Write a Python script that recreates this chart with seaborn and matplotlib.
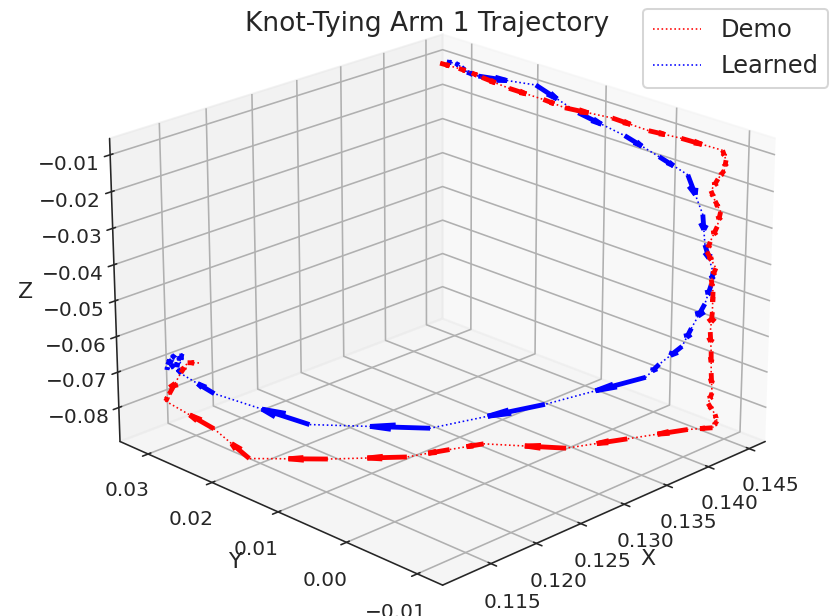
import numpy as np
import matplotlib
matplotlib.use("Agg")
import matplotlib.pyplot as plt
import seaborn as sns

# Arm 1 tool-tip positions (metres) for the demonstrated knot-tying motion
demo_x = [0.1426, 0.1428, 0.1430, 0.1431, 0.1434, 0.1437, 0.1439, 0.1444, 0.1448, 0.1451,
          0.1455, 0.1456, 0.1455, 0.1455, 0.1454, 0.1454, 0.1453, 0.1453, 0.1453, 0.1452,
          0.1451, 0.1452, 0.1451, 0.1450, 0.1449, 0.1449, 0.1448, 0.1447, 0.1447, 0.1447,
          0.1447, 0.1447, 0.1428, 0.1383, 0.1332, 0.1289, 0.1264, 0.1231, 0.1181, 0.1139,
          0.1128, 0.1113, 0.1117, 0.1124, 0.1128, 0.1135]
demo_y = [0.0292, 0.0266, 0.0249, 0.0235, 0.0198, 0.0151, 0.0122, 0.0060, 0.0013, -0.0029,
          -0.0081, -0.0085, -0.0084, -0.0076, -0.0068, -0.0074, -0.0083, -0.0079, -0.0070, -0.0067,
          -0.0081, -0.0074, -0.0078, -0.0079, -0.0078, -0.0080, -0.0082, -0.0085, -0.0080, -0.0090,
          -0.0093, -0.0087, -0.0074, -0.0041, -0.0015, 0.0051, 0.0069, 0.0089, 0.0140, 0.0201,
          0.0239, 0.0292, 0.0292, 0.0283, 0.0278, 0.0268]
demo_z = [-0.0074, -0.0075, -0.0079, -0.0084, -0.0095, -0.0100, -0.0107, -0.0101, -0.0110, -0.0107,
          -0.0110, -0.0135, -0.0163, -0.0191, -0.0228, -0.0252, -0.0275, -0.0318, -0.0366, -0.0395,
          -0.0430, -0.0467, -0.0498, -0.0553, -0.0609, -0.0662, -0.0721, -0.0774, -0.0808, -0.0831,
          -0.0848, -0.0872, -0.0868, -0.0875, -0.0870, -0.0866, -0.0871, -0.0874, -0.0869, -0.0873,
          -0.0808, -0.0756, -0.0740, -0.0680, -0.0652, -0.0652]

# Positions reproduced by the learned policy
learned_x = [0.1427, 0.1428, 0.1428, 0.1429, 0.1430, 0.1436, 0.1441, 0.1445, 0.1450, 0.1452,
             0.1452, 0.1452, 0.1453, 0.1453, 0.1453, 0.1447, 0.1444, 0.1434, 0.1430, 0.1350,
             0.1262, 0.1178, 0.1121, 0.1109, 0.1112, 0.1106, 0.1103, 0.1110, 0.1115, 0.1123,
             0.1117, 0.1108, 0.1112]
learned_y = [0.0283, 0.0271, 0.0262, 0.0255, 0.0239, 0.0161, 0.0105, 0.0043, 0.0000, -0.0038,
             -0.0060, -0.0064, -0.0075, -0.0073, -0.0065, -0.0054, -0.0045, -0.0025, -0.0011, 0.0038,
             0.0095, 0.0163, 0.0227, 0.0260, 0.0275, 0.0278, 0.0272, 0.0276, 0.0273, 0.0279,
             0.0274, 0.0277, 0.0275]
learned_z = [-0.0066, -0.0063, -0.0069, -0.0080, -0.0082, -0.0065, -0.0112, -0.0140, -0.0175, -0.0202,
             -0.0297, -0.0378, -0.0446, -0.0484, -0.0543, -0.0614, -0.0669, -0.0725, -0.0769, -0.0805,
             -0.0829, -0.0787, -0.0693, -0.0651, -0.0640, -0.0651, -0.0629, -0.0612, -0.0629, -0.0623,
             -0.0646, -0.0634, -0.0618]

series_labels = ["Demo", "Learned"]
x_ticks = [0.115, 0.120, 0.125, 0.130, 0.135, 0.140, 0.145]
y_ticks = [-0.01, 0.00, 0.01, 0.02, 0.03]
z_ticks = [-0.08, -0.07, -0.06, -0.05, -0.04, -0.03, -0.02, -0.01]
x_limits = (0.1098, 0.1470)
y_limits = (-0.0135, 0.0345)
z_limits = (-0.0897, -0.0056)

sns.set_style("ticks", rc={
    "axes.facecolor": "white",
    "figure.facecolor": "white",
    "grid.color": "#b0b0b0",
    "grid.linewidth": 0.8,
    "axes.linewidth": 0.8,
    "xtick.major.width": 0.8,
    "ytick.major.width": 0.8,
})
plt.rcParams.update({
    "font.family": ["DejaVu Sans"],
    "font.size": 10,
    "axes.labelsize": 11,
    "xtick.labelsize": 10,
    "ytick.labelsize": 10,
    "legend.fontsize": 12,
})
palette = sns.color_palette(["#ff0000", "#0000ff"])

DPI = 145
fig = plt.figure(figsize=(835 / DPI, 616 / DPI), dpi=DPI)
side = 711
cx, cy = 433, 302
ax = fig.add_axes([(cx - side / 2) / 835, 1 - (cy + side / 2) / 616, side / 835, side / 616],
                  projection="3d")
ax.set_box_aspect((4, 4, 2.82))

series = [(demo_x, demo_y, demo_z), (learned_x, learned_y, learned_z)]
for (xs, ys, zs), color, label in zip(series, palette, series_labels):
    ax.plot(xs, ys, zs, linestyle=":", color=color, linewidth=0.8, label=label, clip_on=False)
    pts = np.column_stack([xs, ys, zs])
    step = np.diff(pts, axis=0)
    ax.quiver(pts[:-1, 0], pts[:-1, 1], pts[:-1, 2], step[:, 0], step[:, 1], step[:, 2],
              length=0.5, color=color, linewidths=2.4, arrow_length_ratio=0.4, clip_on=False)

ax.set_xlim(*x_limits)
ax.set_ylim(*y_limits)
ax.set_zlim(*z_limits)
ax.set_xticks(x_ticks)
ax.set_yticks(y_ticks)
ax.set_zticks(z_ticks)
ax.set_xlabel("X", labelpad=-1)
ax.set_ylabel("Y", labelpad=0)
ax.set_zlabel("Z")
ax.view_init(elev=22, azim=-135)

fig.suptitle("Knot-Tying Arm 1 Trajectory", x=0.512, y=0.982, va="top", fontsize=13.2)
fig.legend(loc="upper right", bbox_to_anchor=(0.998, 0.994), borderaxespad=0.2,
           fontsize=12)

fig.savefig("out.png", dpi=DPI)
